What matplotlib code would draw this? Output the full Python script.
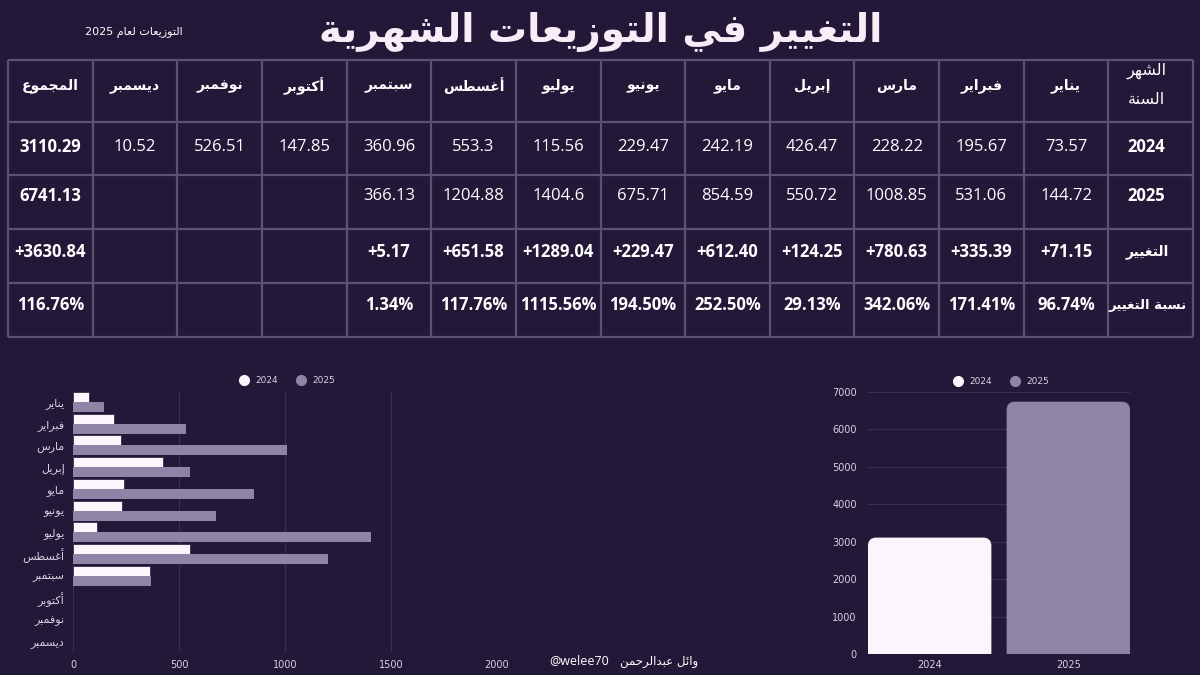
import numpy as np
import matplotlib
matplotlib.use('Agg')
import matplotlib.pyplot as plt
from matplotlib.patches import FancyBboxPatch
from matplotlib.lines import Line2D

# 데이터 (표와 그래프 값)
months = ['يناير', 'فبراير', 'مارس', 'إبريل', 'مايو', 'يونيو',
          'يوليو', 'أغسطس', 'سبتمبر', 'أكتوبر', 'نوفمبر', 'ديسمبر']
v2024 = [73.57, 195.67, 228.22, 426.47, 242.19, 229.47,
         115.56, 553.3, 360.96, 147.85, 526.51, 10.52]
v2025 = [144.72, 531.06, 1008.85, 550.72, 854.59, 675.71,
         1404.6, 1204.88, 366.13]
change = ['+71.15', '+335.39', '+780.63', '+124.25', '+612.40', '+229.47',
          '+1289.04', '+651.58', '+5.17']
change_pct = ['96.74%', '171.41%', '342.06%', '29.13%', '252.50%', '194.50%',
              '1115.56%', '117.76%', '1.34%']
total_label = 'المجموع'
totals = ['3110.29', '6741.13', '+3630.84', '116.76%']
row_labels = ['2024', '2025', 'التغيير', 'نسبة التغيير']
years = ['2024', '2025']
year_totals = [3110.29, 6741.13]

BG = '#231838'
LINE = '#5d5173'
WHITE = '#fcf5fc'
PURPLE = '#8f84a6'
GRID = '#3b2f50'
TXT = '#d9d2e2'

# 아랍어 글자 모양(연결형) 처리 - matplotlib 은 RTL 조합을 하지 않음
FORMS = {
    'ا': ('\uFE8D', '\uFE8E', None, None),
    'أ': ('\uFE83', '\uFE84', None, None),
    'إ': ('\uFE87', '\uFE88', None, None),
    'ب': ('\uFE8F', '\uFE90', '\uFE91', '\uFE92'),
    'ة': ('\uFE93', '\uFE94', None, None),
    'ت': ('\uFE95', '\uFE96', '\uFE97', '\uFE98'),
    'ج': ('\uFE9D', '\uFE9E', '\uFE9F', '\uFEA0'),
    'ح': ('\uFEA1', '\uFEA2', '\uFEA3', '\uFEA4'),
    'د': ('\uFEA9', '\uFEAA', None, None),
    'ر': ('\uFEAD', '\uFEAE', None, None),
    'ز': ('\uFEAF', '\uFEB0', None, None),
    'س': ('\uFEB1', '\uFEB2', '\uFEB3', '\uFEB4'),
    'ش': ('\uFEB5', '\uFEB6', '\uFEB7', '\uFEB8'),
    'ط': ('\uFEC1', '\uFEC2', '\uFEC3', '\uFEC4'),
    'ع': ('\uFEC9', '\uFECA', '\uFECB', '\uFECC'),
    'غ': ('\uFECD', '\uFECE', '\uFECF', '\uFED0'),
    'ف': ('\uFED1', '\uFED2', '\uFED3', '\uFED4'),
    'ك': ('\uFED9', '\uFEDA', '\uFEDB', '\uFEDC'),
    'ل': ('\uFEDD', '\uFEDE', '\uFEDF', '\uFEE0'),
    'م': ('\uFEE1', '\uFEE2', '\uFEE3', '\uFEE4'),
    'ن': ('\uFEE5', '\uFEE6', '\uFEE7', '\uFEE8'),
    'ه': ('\uFEE9', '\uFEEA', '\uFEEB', '\uFEEC'),
    'و': ('\uFEED', '\uFEEE', None, None),
    'ي': ('\uFEF1', '\uFEF2', '\uFEF3', '\uFEF4'),
    'ئ': ('\uFE89', '\uFE8A', '\uFE8B', '\uFE8C'),
}


def shape_word(w):
    out = []
    for i, c in enumerate(w):
        if c not in FORMS:
            out.append(c)
            continue
        iso, fin, ini, med = FORMS[c]
        prev = w[i - 1] if i > 0 else None
        nxt = w[i + 1] if i + 1 < len(w) else None
        jp = prev in FORMS and FORMS[prev][2] is not None
        jn = nxt in FORMS and ini is not None
        if jp and jn:
            out.append(med)
        elif jp:
            out.append(fin)
        elif jn:
            out.append(ini)
        else:
            out.append(iso)
    return out


def ar(text):
    words = []
    for w in text.split(' '):
        if any(c in FORMS for c in w):
            words.append(''.join(reversed(shape_word(w))))
        else:
            words.append(w)
    return ' '.join(reversed(words))


ARF = 'DejaVu Sans'
NUMF = ['Open Sans', 'DejaVu Sans']

fig = plt.figure(figsize=(12, 6.75), dpi=100, facecolor=BG)
bg = fig.add_axes([0, 0, 1, 1])
bg.set_xlim(0, 1200)
bg.set_ylim(675, 0)
bg.axis('off')
bg.set_facecolor(BG)

# 제목
bg.text(601, 32, ar('التغيير في التوزيعات الشهرية'), ha='center', va='center',
        fontsize=28, fontweight='bold', color='#f8ecf8', family=ARF)
bg.text(134, 33, ar('التوزيعات لعام 2025'), ha='center', va='center',
        fontsize=8, color='white', family=ARF)

# 표
col_edges = np.linspace(8, 1193, 15)
row_edges = [60, 122, 175, 229, 283, 337]
bg.vlines(col_edges, row_edges[0], row_edges[-1], color=LINE, lw=1.6)
bg.hlines(row_edges, col_edges[0], col_edges[-1], color=LINE, lw=1.6)
cx = (col_edges[:-1] + col_edges[1:]) / 2
# 열 순서: 합계, 12월 ... 1월, 라벨
month_x = cx[1:13][::-1]
row_y = [147, 196, 252, 305]

bg.text(cx[-1] - 4, 71, ar('الشهر'), ha='center', va='center', fontsize=11.5,
        color='white', family=ARF)
bg.text(cx[-1] - 4, 99, ar('السنة'), ha='center', va='center', fontsize=11.5,
        color='white', family=ARF)
for i, lab in enumerate(row_labels):
    if lab.isdigit():
        bg.text(cx[-1] - 4, row_y[i], lab, ha='center', va='center',
                fontsize=12, fontweight='bold', color='white', family=NUMF)
    else:
        bg.text(cx[-1] - 3, row_y[i], ar(lab), ha='center', va='center',
                fontsize=10 if i == 2 else 9.5, fontweight='bold',
                color='white', family=ARF)

for i, m in enumerate(months):
    bg.text(month_x[i], 86, ar(m), ha='center', va='center', fontsize=10,
            fontweight='bold', color='white', family=ARF)
bg.text(cx[0], 86, ar(total_label), ha='center', va='center', fontsize=10,
        fontweight='bold', color='white', family=ARF)

for i, v in enumerate(v2024):
    bg.text(month_x[i], row_y[0], f'{v:g}', ha='center', va='center',
            fontsize=12, color='white', family=NUMF)
for i, v in enumerate(v2025):
    bg.text(month_x[i], row_y[1], f'{v:g}', ha='center', va='center',
            fontsize=12, color='white', family=NUMF)
for i, s in enumerate(change):
    bg.text(month_x[i], row_y[2], s, ha='center', va='center',
            fontsize=12, fontweight='bold', color='white', family=NUMF)
for i, s in enumerate(change_pct):
    bg.text(month_x[i], row_y[3], s, ha='center', va='center',
            fontsize=12, fontweight='bold', color='white', family=NUMF)
for i, s in enumerate(totals):
    bg.text(cx[0], row_y[i], s, ha='center', va='center',
            fontsize=12, fontweight='bold', color='white', family=NUMF)

# 왼쪽 가로 막대 그래프
ax1 = fig.add_axes([73 / 1200, 23 / 675, 424 / 1200, 261 / 675])
ax1.set_facecolor('none')
n = len(v2025)
y = np.arange(len(months))
h = 0.45
ax1.barh(y[:n] - 0.23, v2024[:n], height=h, color=WHITE, edgecolor='#3a2d4f',
         lw=0.6, label='2024', zorder=3)
ax1.barh(y[:n] + 0.23, v2025, height=h, color=PURPLE, lw=0, label='2025',
         zorder=3)
ax1.set_xlim(0, 2000)
ax1.set_ylim(len(months) - 0.5, -0.5)
ax1.set_xticks([0, 500, 1000, 1500, 2000])
ax1.set_yticks(y)
ax1.set_yticklabels([ar(m) for m in months], family=ARF, fontsize=8, color=TXT)
ax1.tick_params(axis='x', colors=TXT, labelsize=7, length=0, pad=6)
ax1.tick_params(axis='y', length=0, pad=6)
ax1.grid(axis='x', color=GRID, lw=0.8, zorder=0)
for s in ax1.spines.values():
    s.set_visible(False)

handles = [Line2D([], [], marker='o', ls='', ms=7, mfc=WHITE, mec=WHITE),
           Line2D([], [], marker='o', ls='', ms=7, mfc=PURPLE, mec=PURPLE)]
ax1.legend(handles, years, loc='lower center', bbox_to_anchor=(0.5, 1.0),
           ncol=2, frameon=False, fontsize=6.5, labelcolor=TXT,
           handletextpad=0.3, columnspacing=1.5, borderaxespad=0.3)

# 오른쪽 세로 막대 그래프 (연간 합계)
ax2 = fig.add_axes([868 / 1200, 21 / 675, 262 / 1200, 262 / 675])
ax2.set_facecolor('none')
bars = ax2.bar([0, 1], year_totals, width=0.89, color=[WHITE, PURPLE], zorder=3)
ax2.set_xlim(-0.445, 1.445)
ax2.set_ylim(0, 7000)
# 둥근 모서리로 교체
asp = (7000 / 262) / (1.89 / 262)
for b in bars:
    x0, w, top = b.get_x(), b.get_width(), b.get_height()
    r = 0.06
    p = FancyBboxPatch((x0 + r, -r * asp * 3), w - 2 * r, top + r * asp * 3 - r * asp,
                       boxstyle=f'round,pad={r}', mutation_aspect=asp,
                       fc=b.get_facecolor(), ec='none', zorder=3)
    b.set_visible(False)
    ax2.add_patch(p)
ax2.set_xticks([0, 1])
ax2.set_xticklabels(years)
ax2.set_yticks(range(0, 7001, 1000))
ax2.tick_params(colors=TXT, labelsize=7, length=0)
ax2.tick_params(axis='y', pad=8)
ax2.tick_params(axis='x', pad=4)
ax2.grid(axis='y', color=GRID, lw=0.8, zorder=0)
for s in ax2.spines.values():
    s.set_visible(False)
ax2.legend(handles, years, loc='lower center', bbox_to_anchor=(0.5, 1.0),
           ncol=2, frameon=False, fontsize=6.5, labelcolor=TXT,
           handletextpad=0.3, columnspacing=1.5, borderaxespad=0.3)

# 서명
bg.text(698, 661, ar('وائل عبدالرحمن'), ha='right', va='center', fontsize=8.5,
        color='white', family=ARF)
bg.text(549, 661, '@welee70', ha='left', va='center', fontsize=9,
        color='white', family=NUMF)

fig.savefig('out.png', dpi=100, facecolor=BG)
